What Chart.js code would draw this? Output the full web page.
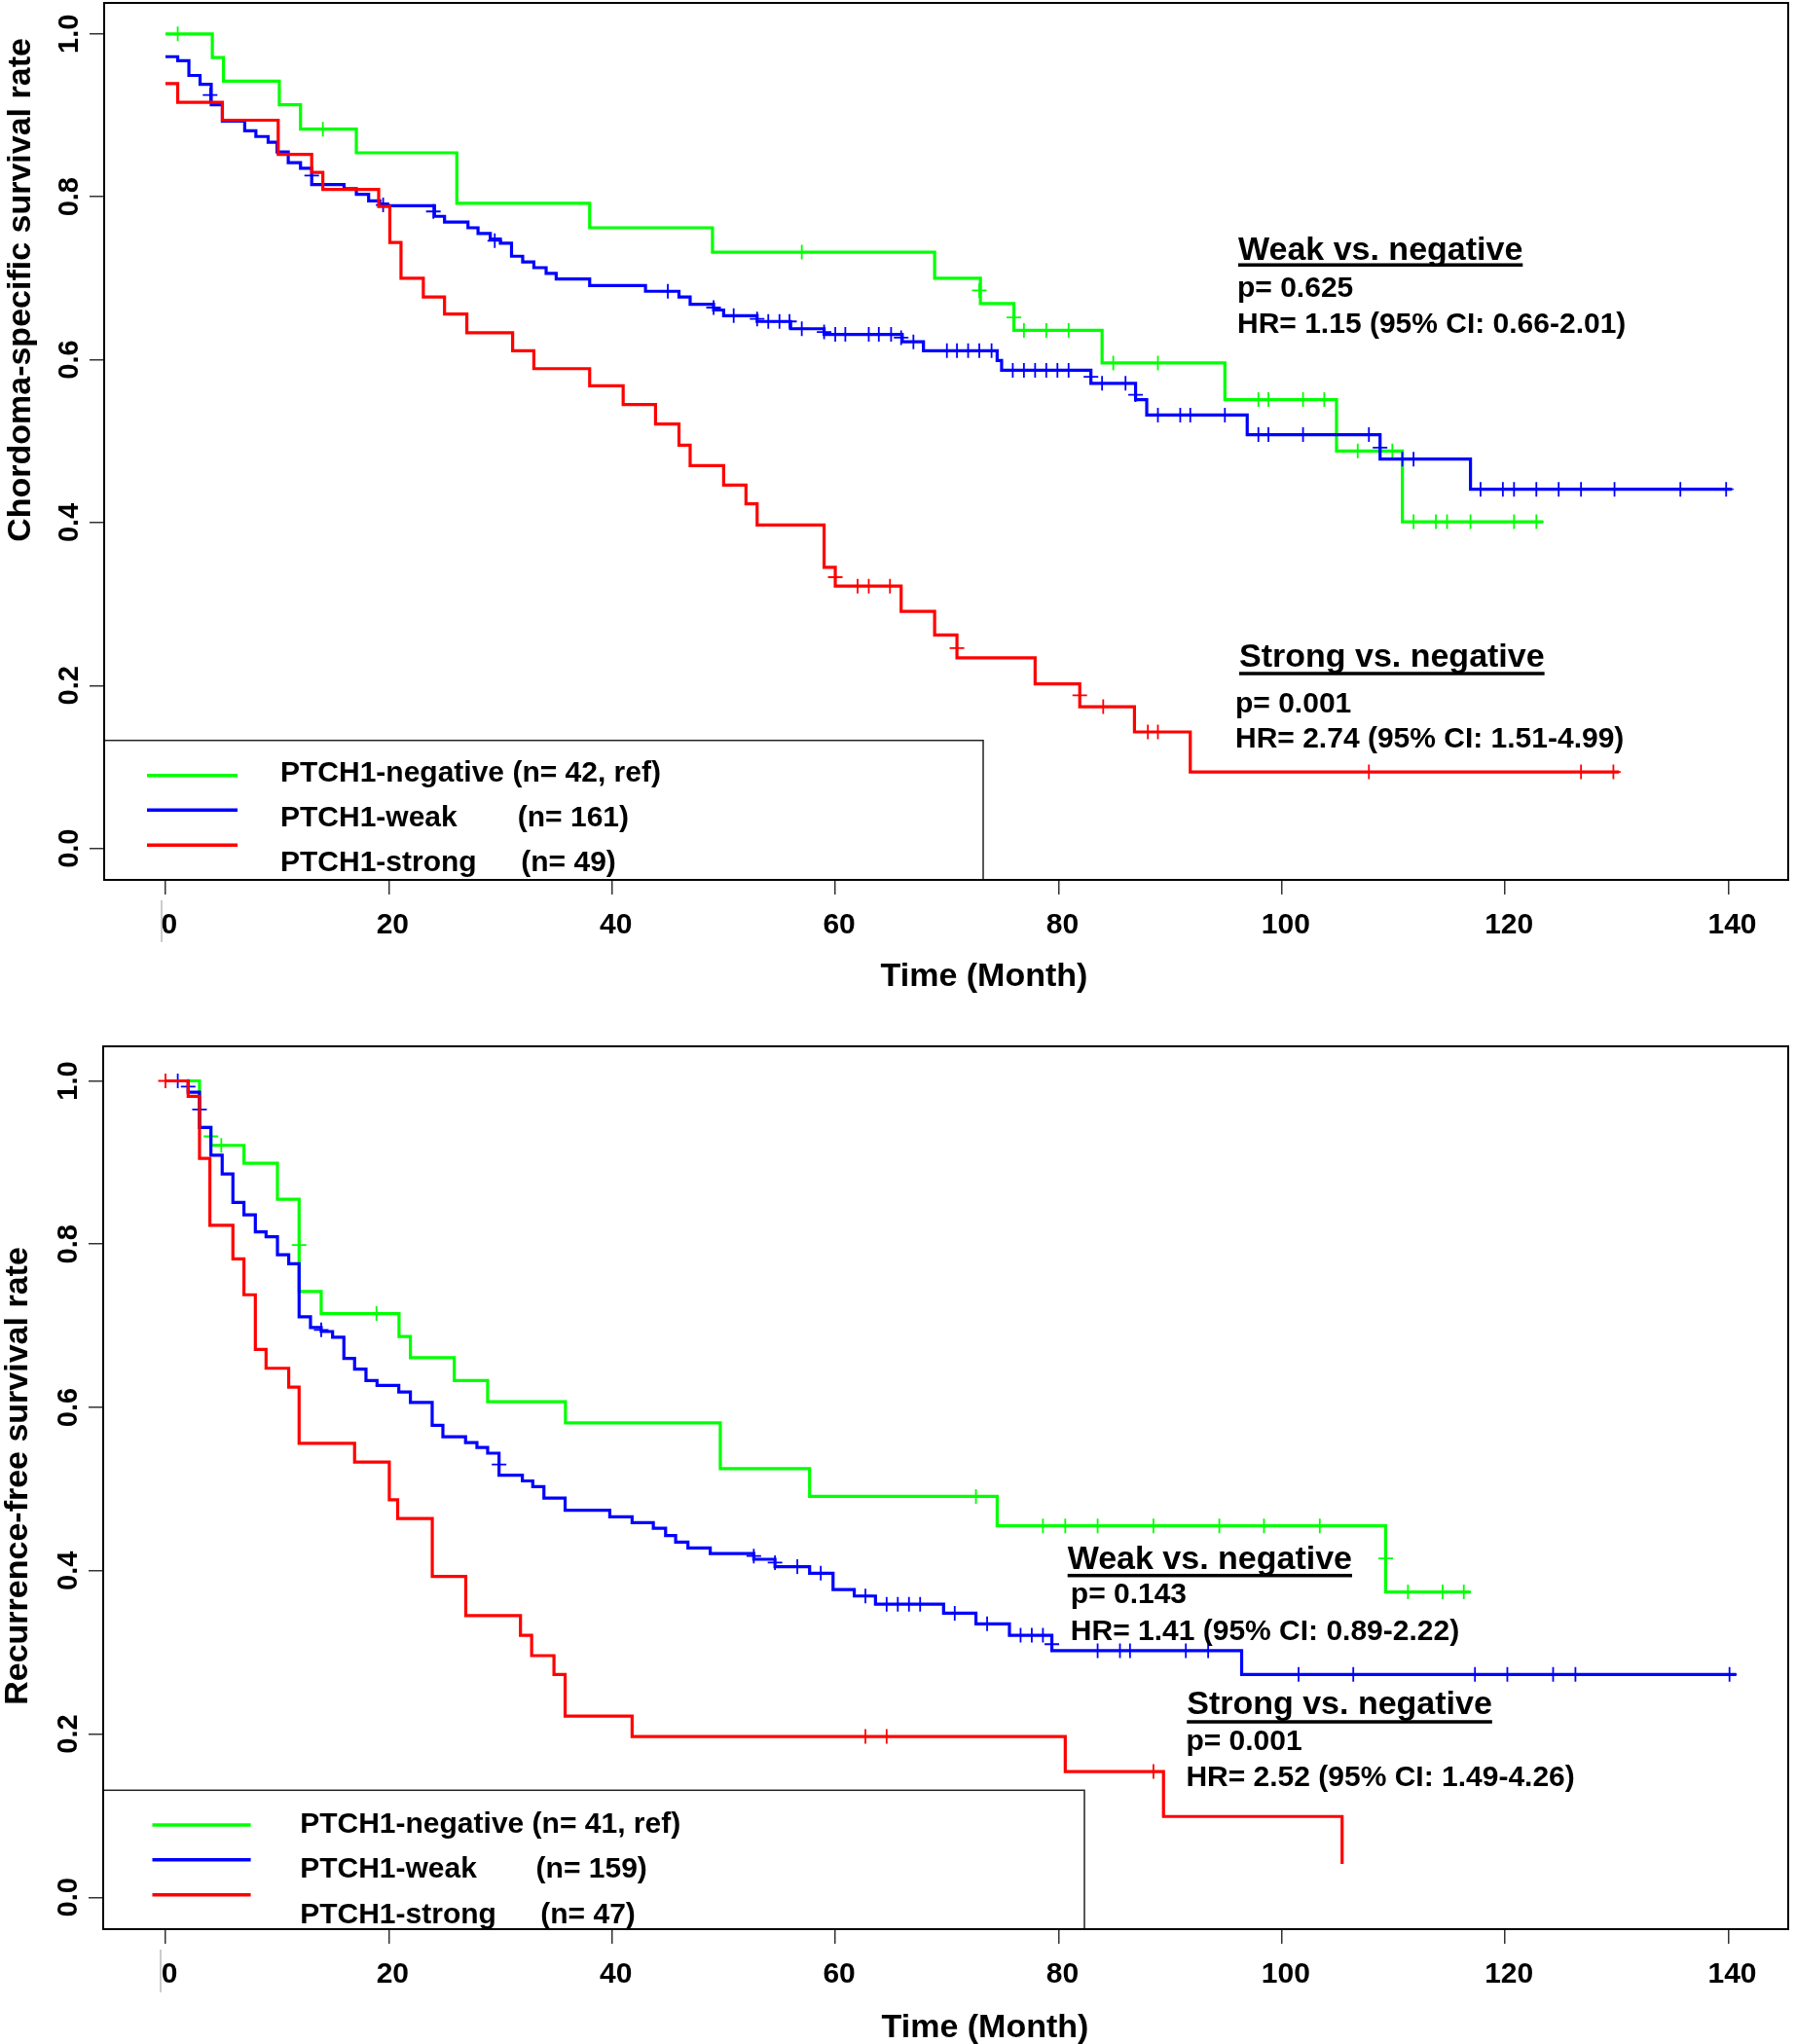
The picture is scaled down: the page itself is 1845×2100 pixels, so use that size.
<!DOCTYPE html>
<html>
<head>
<meta charset="utf-8">
<script src="https://cdn.jsdelivr.net/npm/chart.js@4/dist/chart.umd.min.js"></script>
<style>
html,body{margin:0;padding:0;background:#fff;}
#wrap{position:relative;width:1845px;height:2100px;background:#fff;}
canvas{position:absolute;left:0;}
#c1{top:0;width:1845px;height:1040px;}
#c2{top:1040px;width:1845px;height:1060px;}
</style>
</head>
<body>
<div id="wrap">
<canvas id="c1" width="1845" height="1040"></canvas>
<canvas id="c2" width="1845" height="1060"></canvas>
</div>
<script>
// ---------- tick labels ----------
const xTickVals = [0, 20, 40, 60, 80, 100, 120, 140];
const yTickVals = [0, 0.2, 0.4, 0.6, 0.8, 1.0];

// ---------- text ----------
const groupNames = ['PTCH1-negative', 'PTCH1-weak', 'PTCH1-strong'];
const cssCounts = ['(n= 42, ref)', '(n= 161)', '(n= 49)'];
const rfsCounts = ['(n= 41, ref)', '(n= 159)', '(n= 47)'];
const cssYTitle = 'Chordoma-specific survival rate';
const rfsYTitle = 'Recurrence-free survival rate';
const xTitle = 'Time (Month)';
const cssStats = [
  ['Weak vs. negative', 'p= 0.625', 'HR= 1.15 (95% CI: 0.66-2.01)'],
  ['Strong vs. negative', 'p= 0.001', 'HR= 2.74 (95% CI: 1.51-4.99)']
];
const rfsStats = [
  ['Weak vs. negative', 'p= 0.143', 'HR= 1.41 (95% CI: 0.89-2.22)'],
  ['Strong vs. negative', 'p= 0.001', 'HR= 2.52 (95% CI: 1.49-4.26)']
];

// ---------- Chordoma-specific survival (top) ----------
const cssNegT = [0, 4.2, 5.2, 10.2, 12.1, 17.1, 26.1, 38.0, 49.0, 68.9, 73.0, 76.0, 83.9, 94.9, 104.9, 110.8, 123.4];
const cssNegS = [1.0, 0.971, 0.942, 0.913, 0.883, 0.854, 0.792, 0.762, 0.732, 0.700, 0.669, 0.636, 0.596, 0.551, 0.488, 0.401, 0.401];
const cssNegCT = [1.1, 14.1, 57.0, 72.9, 76.0, 76.9, 78.9, 80.9, 84.9, 88.9, 97.9, 98.8, 101.9, 103.8, 106.8, 109.9, 111.8, 113.8, 114.8, 116.9, 120.8, 122.8];
const cssNegCS = [1.0, 0.883, 0.732, 0.685, 0.652, 0.636, 0.636, 0.636, 0.596, 0.596, 0.551, 0.551, 0.551, 0.551, 0.488, 0.488, 0.401, 0.401, 0.401, 0.401, 0.401, 0.401];

const cssWeakT = [0, 1.1, 2.1, 3.1, 4.1, 5.1, 7.1, 8.1, 9.2, 10.0, 11.0, 12.1, 13.1, 16.0, 17.1, 18.2, 19.2, 19.9, 24.1, 25.0, 27.1, 28.0, 29.1, 30.0, 31.0, 32.0, 33.0, 34.1, 35.0, 38.0, 43.0, 46.0, 47.0, 49.1, 50.0, 53.0, 56.0, 59.0, 66.0, 67.9, 74.5, 74.9, 82.9, 86.9, 87.9, 96.9, 108.8, 116.9, 140.3];
const cssWeakS = [0.972, 0.967, 0.949, 0.938, 0.913, 0.893, 0.881, 0.874, 0.867, 0.855, 0.842, 0.835, 0.815, 0.810, 0.803, 0.795, 0.791, 0.789, 0.776, 0.769, 0.762, 0.755, 0.748, 0.743, 0.727, 0.720, 0.713, 0.706, 0.699, 0.691, 0.684, 0.677, 0.668, 0.661, 0.654, 0.647, 0.638, 0.631, 0.622, 0.611, 0.599, 0.587, 0.571, 0.551, 0.532, 0.508, 0.478, 0.441, 0.441];
const cssWeakCT = [4.0, 13.1, 19.5, 24.0, 29.5, 45.0, 49.1, 50.9, 53.0, 54.0, 55.0, 55.9, 57.0, 59.0, 60.0, 60.9, 63.0, 63.9, 65.0, 65.9, 67.0, 70.0, 70.9, 71.9, 72.9, 74.0, 75.9, 76.9, 77.9, 78.9, 79.9, 80.9, 82.9, 83.9, 86.0, 86.9, 88.9, 90.9, 91.8, 94.9, 97.9, 98.8, 101.9, 107.8, 108.8, 110.8, 111.8, 117.8, 119.8, 120.8, 122.8, 124.8, 126.8, 129.8, 135.7, 139.8];
const cssWeakCS = [0.925, 0.826, 0.790, 0.782, 0.746, 0.684, 0.664, 0.654, 0.650, 0.647, 0.647, 0.647, 0.638, 0.634, 0.631, 0.631, 0.631, 0.631, 0.631, 0.627, 0.622, 0.611, 0.611, 0.611, 0.611, 0.611, 0.587, 0.587, 0.587, 0.587, 0.587, 0.587, 0.579, 0.571, 0.571, 0.557, 0.532, 0.532, 0.532, 0.532, 0.508, 0.508, 0.508, 0.508, 0.492, 0.478, 0.478, 0.441, 0.441, 0.441, 0.441, 0.441, 0.441, 0.441, 0.441, 0.441];

const cssStrongT = [0, 1.1, 5.1, 10.1, 13.1, 14.1, 19.1, 20.1, 21.1, 23.1, 25.0, 27.0, 31.1, 33.0, 38.0, 41.0, 43.9, 46.0, 47.0, 50.0, 52.0, 53.0, 59.0, 60.0, 65.9, 68.9, 70.9, 77.9, 81.9, 86.8, 91.8, 130.2];
const cssStrongS = [0.939, 0.916, 0.894, 0.852, 0.830, 0.809, 0.788, 0.744, 0.700, 0.677, 0.656, 0.633, 0.611, 0.589, 0.568, 0.545, 0.521, 0.495, 0.470, 0.446, 0.423, 0.397, 0.345, 0.322, 0.291, 0.262, 0.234, 0.202, 0.174, 0.143, 0.094, 0.094];
const cssStrongCT = [60.0, 62.0, 63.0, 64.9, 70.9, 81.9, 84.0, 88.0, 88.9, 107.8, 126.8, 129.7];
const cssStrongCS = [0.333, 0.322, 0.322, 0.322, 0.246, 0.188, 0.174, 0.143, 0.143, 0.094, 0.094, 0.094];

// ---------- Recurrence-free survival (bottom) ----------
const rfsNegT = [0, 3.05, 4.07, 7.03, 10.03, 11.97, 13.95, 20.92, 21.94, 25.87, 28.86, 35.83, 49.7, 57.7, 74.5, 109.3, 116.9];
const rfsNegS = [1.0, 0.943, 0.921, 0.899, 0.855, 0.742, 0.715, 0.687, 0.661, 0.633, 0.607, 0.581, 0.525, 0.491, 0.455, 0.374, 0.374];
const rfsNegCT = [4.07, 5.0, 11.97, 18.9, 72.6, 78.6, 80.6, 83.5, 88.5, 94.4, 98.4, 103.4, 109.3, 111.3, 114.4, 116.3];
const rfsNegCS = [0.932, 0.921, 0.799, 0.715, 0.491, 0.455, 0.455, 0.455, 0.455, 0.455, 0.455, 0.455, 0.415, 0.374, 0.374, 0.374];

const rfsWeakT = [0, 2.03, 3.05, 4.07, 5.08, 6.04, 7.03, 8.05, 9.01, 10.03, 11.04, 11.97, 12.99, 13.95, 14.97, 15.98, 16.94, 17.96, 18.95, 20.9, 21.94, 23.89, 24.85, 26.88, 27.9, 28.86, 29.88, 31.97, 32.9, 33.9, 35.8, 39.8, 41.8, 43.7, 44.8, 45.7, 46.8, 48.8, 52.7, 54.6, 57.7, 59.8, 61.7, 63.6, 69.7, 72.6, 75.6, 79.4, 96.4, 140.7];
const rfsWeakS = [1.0, 0.986, 0.943, 0.909, 0.886, 0.851, 0.836, 0.815, 0.809, 0.787, 0.776, 0.711, 0.698, 0.693, 0.686, 0.660, 0.647, 0.633, 0.627, 0.619, 0.606, 0.578, 0.564, 0.557, 0.551, 0.544, 0.517, 0.510, 0.503, 0.489, 0.474, 0.466, 0.459, 0.452, 0.443, 0.435, 0.428, 0.421, 0.414, 0.405, 0.397, 0.377, 0.369, 0.359, 0.348, 0.335, 0.321, 0.302, 0.273, 0.273];
const rfsWeakCT = [1.1, 2.03, 3.05, 13.95, 29.88, 52.7, 54.6, 56.6, 58.7, 62.7, 64.6, 65.6, 66.6, 67.6, 70.7, 73.6, 76.6, 77.6, 78.6, 79.4, 83.5, 85.5, 86.4, 91.4, 93.4, 101.5, 106.4, 117.3, 120.2, 124.3, 126.3, 140.1];
const rfsWeakCS = [1.0, 0.993, 0.965, 0.695, 0.530, 0.418, 0.410, 0.405, 0.397, 0.369, 0.359, 0.359, 0.359, 0.359, 0.348, 0.335, 0.321, 0.321, 0.321, 0.310, 0.302, 0.302, 0.302, 0.302, 0.302, 0.273, 0.273, 0.273, 0.273, 0.273, 0.273, 0.273];

const rfsStrongT = [0, 2.03, 3.05, 3.98, 6.04, 7.03, 8.05, 9.01, 11.04, 11.97, 16.94, 20.05, 20.8, 23.9, 26.9, 31.8, 32.8, 34.8, 35.8, 41.8, 80.6, 89.4, 105.4];
const rfsStrongS = [1.0, 0.981, 0.905, 0.823, 0.782, 0.738, 0.671, 0.648, 0.625, 0.556, 0.533, 0.487, 0.464, 0.393, 0.345, 0.321, 0.296, 0.273, 0.222, 0.197, 0.154, 0.099, 0.041];
const rfsStrongCT = [0, 62.7, 64.6, 88.5];
const rfsStrongCS = [1.0, 0.197, 0.197, 0.154];

// ---------- styling ----------
const FONT = '"Liberation Sans", Arial, Helvetica, sans-serif';
const groupColors = ['#00FF00', '#0000FF', '#FF0000'];
const groupOrder = [3, 2, 1]; // red on top, then blue, then green

function pts(t, s) { return t.map((v, i) => ({ x: v, y: s[i] })); }

function buildDatasets(series) {
  const ds = [];
  series.forEach((g, i) => {
    ds.push({
      label: groupNames[i],
      data: pts(g[0], g[1]),
      stepped: 'before',
      borderColor: groupColors[i],
      backgroundColor: groupColors[i],
      borderWidth: 3.2,
      borderCapStyle: 'butt',
      borderJoinStyle: 'miter',
      pointRadius: 0,
      pointHoverRadius: 0,
      fill: false,
      order: groupOrder[i]
    });
    ds.push({
      label: groupNames[i] + ' (censored)',
      data: pts(g[2], g[3]),
      showLine: false,
      pointStyle: 'cross',
      pointRadius: 7.5,
      pointHoverRadius: 7.5,
      pointBorderWidth: 1.8,
      pointBorderColor: groupColors[i],
      borderColor: groupColors[i],
      backgroundColor: groupColors[i],
      order: groupOrder[i]
    });
  });
  return ds;
}

function decorPlugin(d) {
  return {
    id: 'decor',
    afterDraw(chart) {
      const ctx = chart.ctx, a = chart.chartArea;
      ctx.save();
      // legend box
      const L = d.legend;
      ctx.fillStyle = '#fff';
      ctx.fillRect(a.left, L.top, L.right - a.left, a.bottom - L.top);
      ctx.strokeStyle = '#222';
      ctx.lineWidth = 1.5;
      ctx.strokeRect(a.left, L.top, L.right - a.left, a.bottom - L.top);
      // plot box
      ctx.strokeStyle = '#000';
      ctx.lineWidth = 2;
      ctx.strokeRect(a.left, a.top, a.right - a.left, a.bottom - a.top);
      // legend entries
      ctx.textAlign = 'left';
      ctx.textBaseline = 'alphabetic';
      for (let i = 0; i < 3; i++) {
        ctx.strokeStyle = groupColors[i];
        ctx.lineWidth = 3.5;
        ctx.beginPath();
        ctx.moveTo(L.lineX[0], L.lineY[i]);
        ctx.lineTo(L.lineX[1], L.lineY[i]);
        ctx.stroke();
        ctx.fillStyle = '#000';
        ctx.font = 'bold 30px ' + FONT;
        if (i === 0) {
          ctx.fillText(groupNames[i] + ' ' + d.counts[i], L.textX, L.textY[i]);
        } else {
          ctx.fillText(groupNames[i], L.textX, L.textY[i]);
          ctx.fillText(d.counts[i], L.nX[i], L.textY[i]);
        }
      }
      // statistics
      d.stats.forEach((st, k) => {
        const p = d.statPos[k];
        ctx.fillStyle = '#000';
        ctx.font = 'bold 34px ' + FONT;
        ctx.fillText(st[0], p.hx, p.hy);
        const w = ctx.measureText(st[0]).width;
        ctx.fillRect(p.hx, p.hy + p.ul - 1.75, w, 3.5);
        ctx.font = 'bold 30px ' + FONT;
        ctx.fillText(st[1], p.px, p.py);
        ctx.fillText(st[2], p.rx, p.ry);
      });
      // axis titles
      ctx.font = 'bold 34px ' + FONT;
      ctx.textAlign = 'center';
      ctx.fillText(d.xTitle, d.xTitlePos[0], d.xTitlePos[1]);
      ctx.save();
      ctx.translate(d.yTitlePos[0], d.yTitlePos[1]);
      ctx.rotate(-Math.PI / 2);
      ctx.fillText(d.yTitle, 0, 0);
      ctx.restore();
      // faint stray vertical stroke beside the "0" label
      ctx.strokeStyle = '#999';
      ctx.lineWidth = 1;
      ctx.beginPath();
      ctx.moveTo(d.stray[0], d.stray[1]);
      ctx.lineTo(d.stray[0], d.stray[2]);
      ctx.stroke();
      ctx.restore();
    }
  };
}

function makeChart(id, series, d) {
  return new Chart(document.getElementById(id), {
    type: 'line',
    data: { datasets: buildDatasets(series) },
    options: {
      responsive: false,
      animation: false,
      events: [],
      devicePixelRatio: 1,
      layout: { autoPadding: false, padding: { top: d.padTop, right: d.padRight, left: 0, bottom: 0 } },
      plugins: { legend: { display: false }, tooltip: { enabled: false } },
      scales: {
        x: {
          type: 'linear',
          position: 'bottom',
          min: d.xMin, max: d.xMax,
          afterBuildTicks: s => { s.ticks = xTickVals.map(v => ({ value: v })); },
          afterFit: s => { s.height = d.xAxisHeight; s.paddingLeft = 0; s.paddingRight = 0; },
          grid: { display: true, drawOnChartArea: false, drawTicks: true, tickLength: 15, color: '#333', lineWidth: 1.5 },
          border: { display: false },
          ticks: {
            autoSkip: false, maxRotation: 0, minRotation: 0, padding: 14, labelOffset: 4, color: '#000',
            font: { family: FONT, size: 30, weight: 'bold' },
            callback: v => String(v)
          }
        },
        y: {
          type: 'linear',
          position: 'left',
          min: d.yMin, max: d.yMax,
          afterBuildTicks: s => { s.ticks = yTickVals.map(v => ({ value: v })); },
          afterFit: s => { s.width = d.yAxisWidth; s.paddingTop = 0; s.paddingBottom = 0; },
          grid: { display: true, drawOnChartArea: false, drawTicks: true, tickLength: 15, color: '#333', lineWidth: 1.5 },
          border: { display: false },
          ticks: {
            autoSkip: false, minRotation: 90, maxRotation: 90, crossAlign: 'center', padding: 0, color: '#000',
            font: { family: FONT, size: 29, weight: 'bold' },
            callback: v => Number(v).toFixed(1)
          }
        }
      }
    },
    plugins: [decorPlugin(d)]
  });
}

makeChart('c1', [
  [cssNegT, cssNegS, cssNegCT, cssNegCS],
  [cssWeakT, cssWeakS, cssWeakCT, cssWeakCS],
  [cssStrongT, cssStrongS, cssStrongCT, cssStrongCS]
], {
  xMin: -5.49, xMax: 145.36, yMin: -0.0386, yMax: 1.038,
  yAxisWidth: 107, xAxisHeight: 136, padTop: 3, padRight: 8,
  counts: cssCounts,
  legend: { top: 760.7, right: 1010, lineX: [151, 244], lineY: [796.7, 832.3, 868.3], textX: 288, textY: [803, 849.3, 895], nX: [0, 531.8, 535.3] },
  stats: cssStats,
  statPos: [
    { hx: 1272, hy: 266.7, ul: 5.5, px: 1271, py: 305, rx: 1271, ry: 341.7 },
    { hx: 1273, hy: 685, ul: 7, px: 1269, py: 731.7, rx: 1269, ry: 768.3 }
  ],
  xTitle: xTitle, xTitlePos: [1011, 1013],
  yTitle: cssYTitle, yTitlePos: [31, 298],
  stray: [166, 925, 968]
});

makeChart('c2', [
  [rfsNegT, rfsNegS, rfsNegCT, rfsNegCS],
  [rfsWeakT, rfsWeakS, rfsWeakCT, rfsWeakCS],
  [rfsStrongT, rfsStrongS, rfsStrongCT, rfsStrongCS]
], {
  xMin: -5.58, xMax: 145.36, yMin: -0.039, yMax: 1.0423,
  yAxisWidth: 106, xAxisHeight: 118, padTop: 35, padRight: 8,
  counts: rfsCounts,
  legend: { top: 799.3, right: 1114, lineX: [156.5, 257.6], lineY: [835, 870.7, 906.7], textX: 308.2, textY: [842.7, 889.3, 935.7], nX: [0, 550.6, 555.3] },
  stats: rfsStats,
  statPos: [
    { hx: 1096.7, hy: 571.7, ul: 7, px: 1099.8, py: 607.3, rx: 1099.8, ry: 645 },
    { hx: 1219.2, hy: 721, ul: 8, px: 1218.4, py: 758.3, rx: 1218.4, ry: 795 }
  ],
  xTitle: xTitle, xTitlePos: [1012, 1052.7],
  yTitle: rfsYTitle, yTitlePos: [28, 476.5],
  stray: [165, 963, 1007]
});
</script>
</body>
</html>
